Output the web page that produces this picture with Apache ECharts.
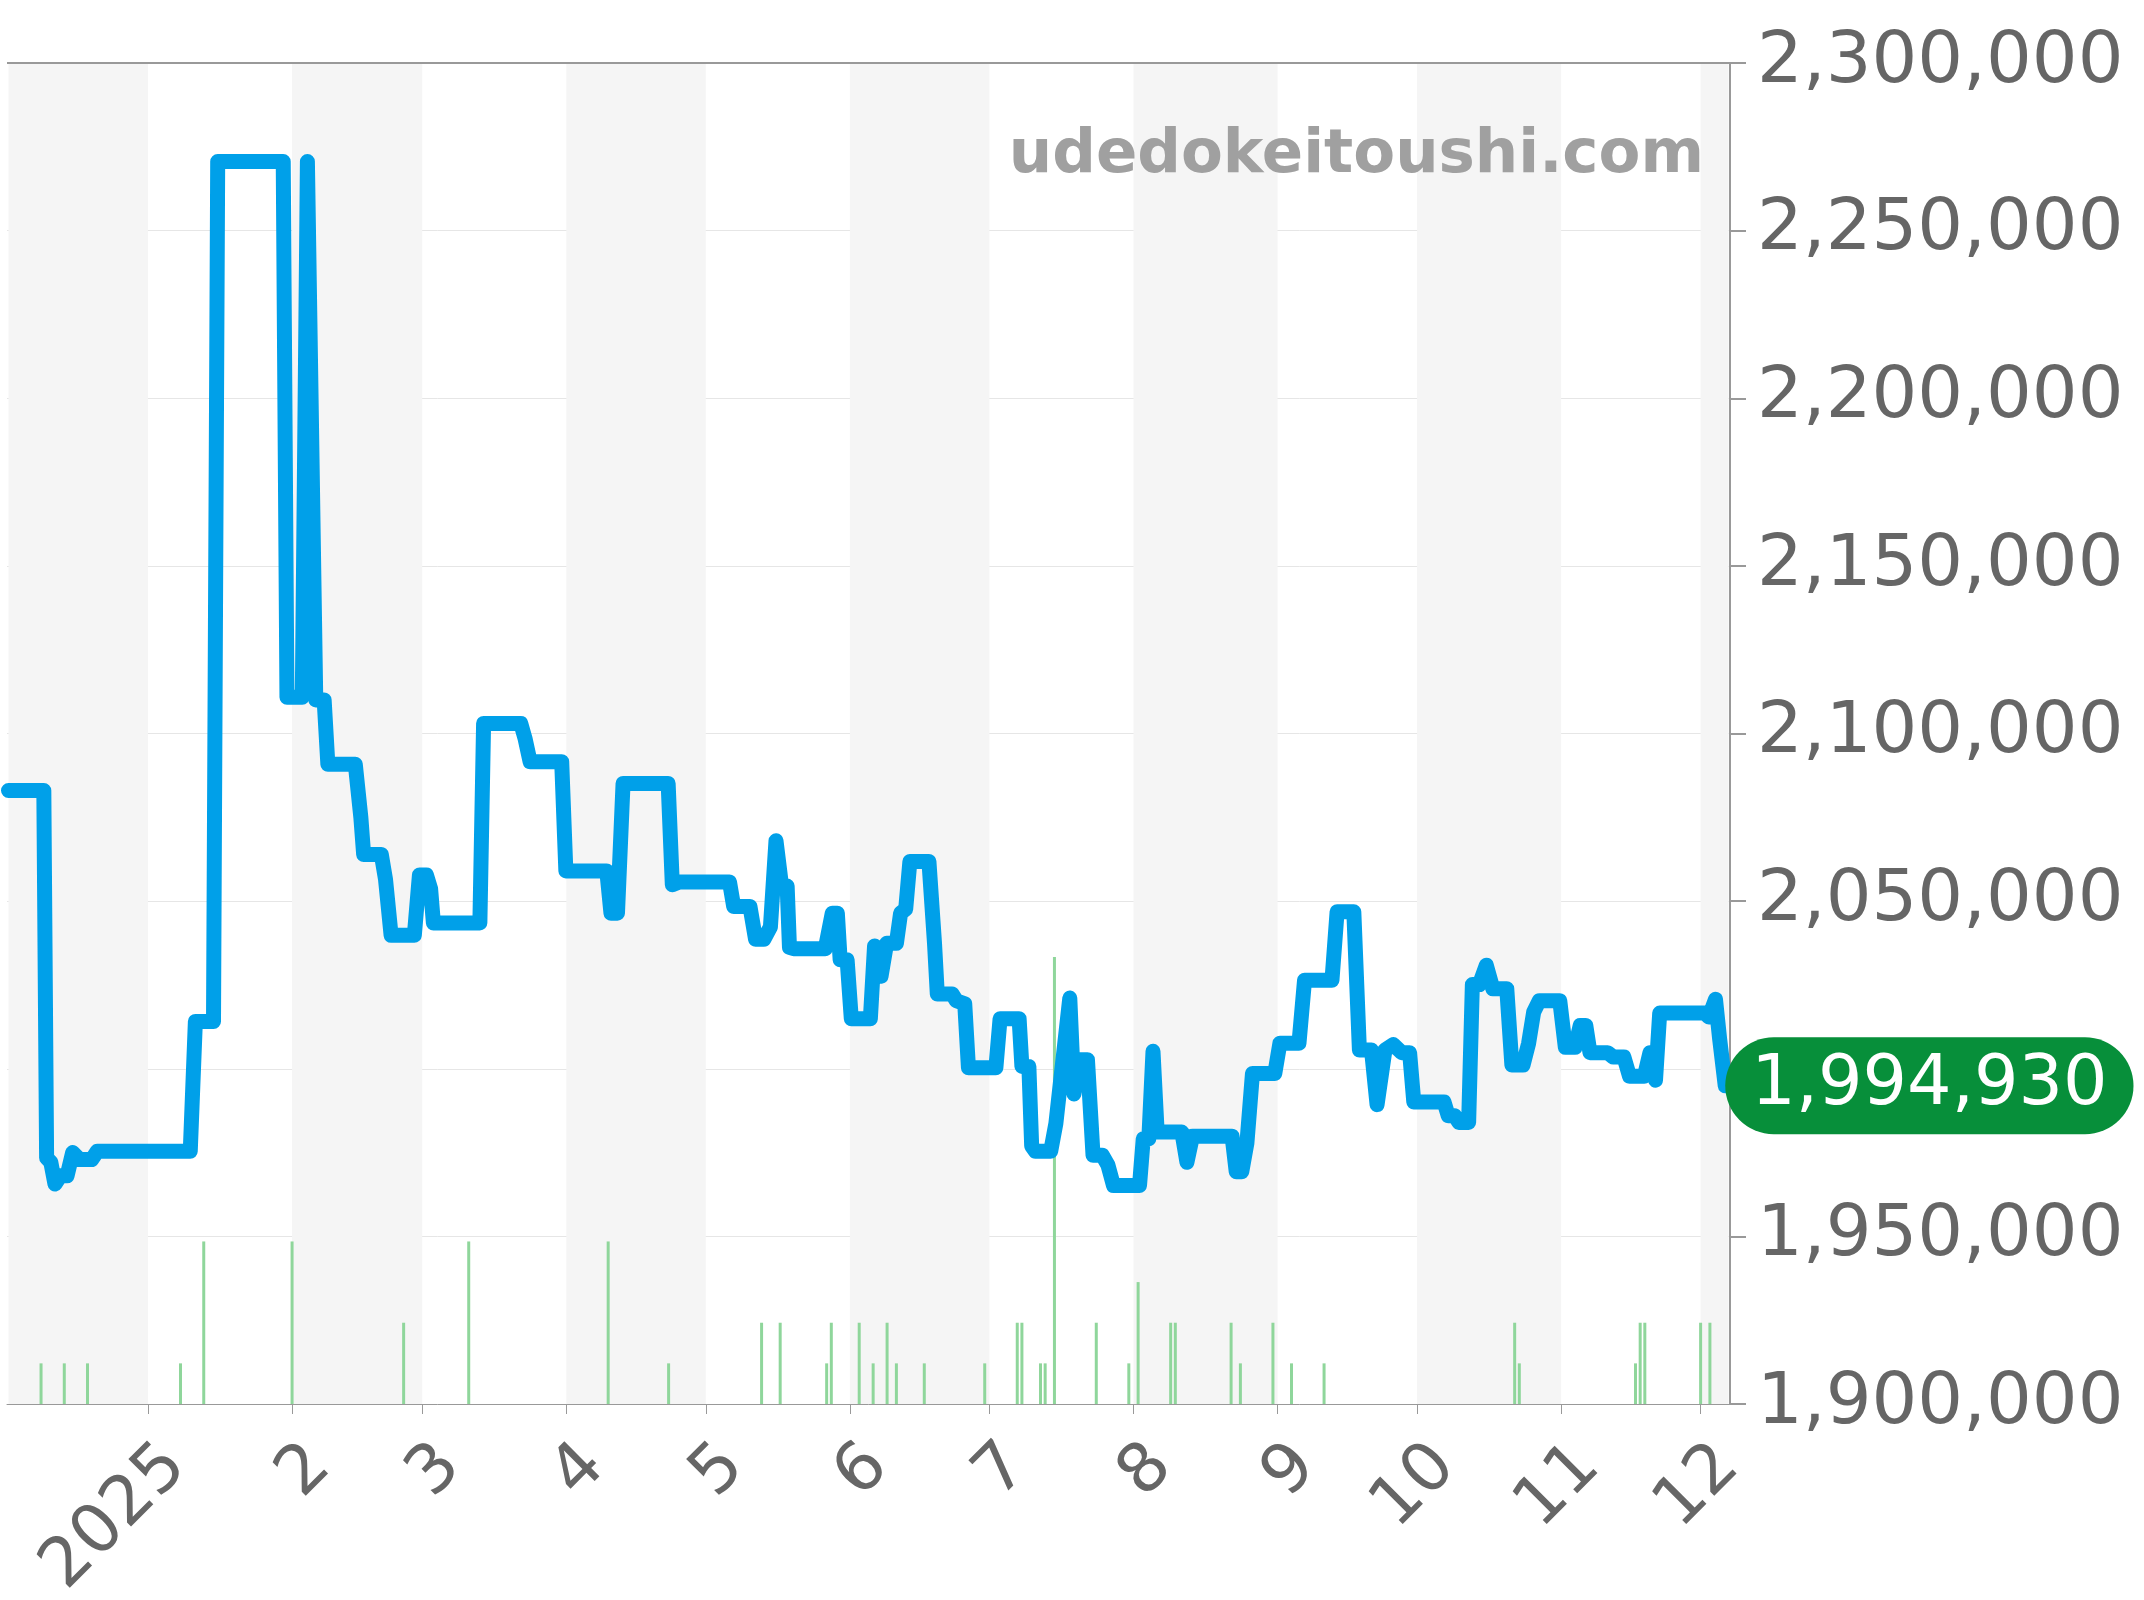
<!DOCTYPE html>
<html><head><meta charset="utf-8">
<script src="https://cdn.jsdelivr.net/npm/echarts@6/dist/echarts.min.js"></script>
<style>html,body{margin:0;padding:0;background:#fff}#c{width:2144px;height:1600px}</style>
</head><body><div id="c"></div>
<script>
// Start date of the chart and day offsets for each price point
const startDate = '2024-12-02';
const endDate = '2025-12-07';
const priceDays = [0,7.6,8.2,9.1,10.0,11.2,12.6,13.8,15.3,17.9,19.1,39.1,40.2,44.1,45.0,59.1,59.9,63.2,64.3,66.1,67.9,68.7,74.6,75.8,76.4,80.2,81.1,82.3,87.3,88.4,89.9,90.8,91.4,101.4,102.2,110.2,111.1,112.2,119.0,119.9,128.7,129.6,131.0,132.2,141.9,142.8,144.3,155.1,156.0,159.5,160.7,162.5,163.9,165.1,166.3,167.5,168.0,168.9,175.7,177.2,178.3,178.9,180.4,181.3,185.4,186.3,187.7,188.9,191.0,191.9,193.0,193.9,198.0,199.2,199.8,203.0,203.9,205.7,206.5,212.4,213.3,217.4,218.0,219.5,220.1,220.9,224.2,225.3,228.3,229.2,230.3,232.1,233.3,235.3,236.5,237.7,243.3,244.1,245.3,246.2,247.1,252.4,253.5,254.7,263.2,264.1,265.3,266.4,267.6,272.4,273.5,277.6,278.8,284.7,285.8,289.4,290.6,293.2,294.4,296.1,297.9,299.7,301.4,302.3,308.8,309.7,311.1,312.0,314.1,314.9,316.4,317.9,319.3,322.3,323.4,325.8,327.0,328.1,329.3,333.7,334.9,337.0,338.1,339.3,340.2,344.0,345.2,347.5,348.7,351.9,353.1,354.3,355.2,364.9,365.8,367.2,368.1,369.3];
const priceValues = [2083000,2083000,1973400,1972100,1965600,1968100,1968100,1975000,1972900,1972900,1975400,1975400,2014100,2014100,2270600,2270600,2110800,2110800,2270600,2110000,2110000,2090800,2090800,2074900,2063900,2063900,2056500,2039800,2039800,2057800,2057800,2053700,2043500,2043500,2103000,2103000,2098600,2091600,2091600,2059000,2059000,2046400,2046400,2085100,2085100,2054900,2055700,2055700,2048400,2048400,2038600,2038600,2042300,2068000,2054500,2054500,2036200,2035800,2035800,2046400,2046400,2032500,2032500,2014900,2014900,2036600,2027600,2037400,2037400,2046400,2047600,2061800,2061800,2037400,2022300,2022300,2020300,2019400,2000300,2000300,2014900,2014900,2000700,2000700,1977000,1975400,1975400,1983600,2021100,1992500,2002700,2002700,1974200,1974200,1971300,1965200,1965200,1979100,1979100,2005200,1981100,1981100,1972100,1979900,1979900,1969300,1969300,1977800,1998600,1998600,2007600,2007600,2026400,2026400,2046800,2046800,2005600,2005600,1989300,2005600,2007200,2004800,2004800,1990100,1990100,1986000,1986000,1984000,1984000,2025100,2025100,2030900,2023900,2023900,2001100,2001100,2007600,2017000,2020300,2020300,2006400,2006400,2012900,2012900,2004800,2004800,2003500,2003500,1997800,1997800,2004800,1996600,2016600,2016600,2015400,2020700,2008800,1994930];
const volumeDays = [7,12,17,37,42,61,85,99,129,142,162,166,176,177,183,186,189,191,197,210,217,218,222,223,225,234,241,243,250,251,263,265,272,276,283,324,325,350,351,352,364,366];
const volumeValues = [1,1,1,1,4,4,2,4,4,1,2,2,1,2,2,1,2,1,1,1,2,2,1,1,11,2,1,3,2,2,2,1,2,1,1,2,1,1,2,2,2,2];
const shadedMonths = [['2024-12-02','2025-01-01'],['2025-02-01','2025-03-01'],['2025-04-01','2025-05-01'],['2025-06-01','2025-07-01'],['2025-08-01','2025-09-01'],['2025-10-01','2025-11-01'],['2025-12-01','2025-12-07']];
const yTicks = {min:1900000, max:2300000, interval:50000};
const hiddenTick = 2000000; // covered by the current-price badge
const watermark = 'udedokeitoushi.com';

const t0 = new Date(startDate + 'T00:00:00').getTime();
const DAY = 86400000;
const toT = d => t0 + d * DAY;
const priceData = priceDays.map((d,i)=>[toT(d), priceValues[i]]);
const volData = volumeDays.map((d,i)=>[toT(d), volumeValues[i]]);
const tMin = t0, tMax = new Date(endDate + 'T00:00:00').getTime();

const chart = echarts.init(document.getElementById('c'));
chart.setOption({
  animation:false,
  textStyle:{fontFamily:'DejaVu Sans'},
  grid:{left:7, right:414, top:63, bottom:196, containLabel:false, outerBoundsMode:'none'},
  xAxis:{
    type:'time', min:tMin, max:tMax, minInterval:28*DAY, maxInterval:31*DAY,
    axisLine:{show:true, lineStyle:{color:'#999'}},
    axisTick:{show:true, length:10, lineStyle:{color:'#999'}},
    splitLine:{show:false},
    axisLabel:{rotate:45, fontSize:68, color:'#666', margin:24, padding:[80,0,0,0], hideOverlap:false,
      formatter:function(v){const d=new Date(v); return d.getMonth()===0? String(d.getFullYear()) : String(d.getMonth()+1);}}
  },
  yAxis:[{
    type:'value', position:'right', min:yTicks.min, max:yTicks.max, interval:yTicks.interval,
    axisLine:{show:true, lineStyle:{color:'#999', width:2}},
    axisTick:{show:true, length:16, lineStyle:{color:'#999', width:2}},
    splitLine:{lineStyle:{color:'#e6e6e6'}},
    axisLabel:{fontSize:72, color:'#666', margin:27, formatter:v=>v===hiddenTick?'':v.toLocaleString('en-US')}
  },{
    type:'value', min:0, max:33, show:false
  }],
  graphic:[{type:'text', right:440, top:126, z:10, style:{text:watermark, fontSize:61, fontWeight:'bold', fill:'#a0a0a0', fontFamily:'DejaVu Sans'}}],
  series:[{
    type:'bar', yAxisIndex:1, data:volData, barWidth:3, itemStyle:{color:'#8fd69b'}, z:1,
    markArea:{silent:true, itemStyle:{color:'#f5f5f5'}, data:shadedMonths.map(p=>[{xAxis:new Date(p[0]+'T00:00:00').getTime()},{xAxis:new Date(p[1]+'T00:00:00').getTime()}])}
  },{
    type:'line', data:priceData, showSymbol:false, z:3,
    lineStyle:{color:'#00a0e9', width:15, join:'round', cap:'round'},
    itemStyle:{color:'#00a0e9'},
    markLine:{silent:true, symbol:'none', label:{show:false}, lineStyle:{color:'#999', type:'solid', width:2}, data:[{yAxis:yTicks.max}]},
    endLabel:{show:true, distance:0, formatter:p=>p.value[1].toLocaleString('en-US'), fontSize:70, color:'#fff', backgroundColor:'#078f3a', borderRadius:50, padding:[15,26,12,26]}
  }]
});
</script></body></html>
